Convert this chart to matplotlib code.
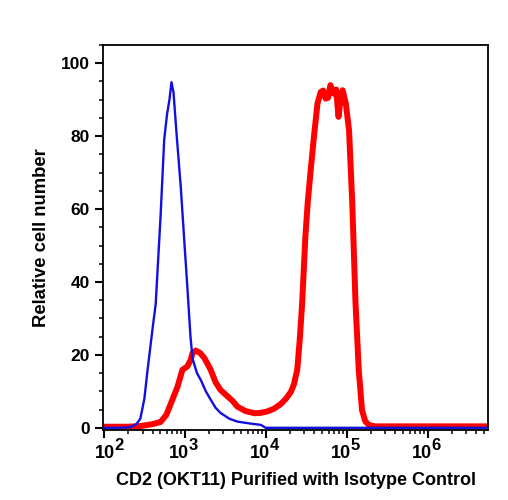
import numpy as np
import matplotlib
matplotlib.use("Agg")
import matplotlib.pyplot as plt
from matplotlib.ticker import LogLocator, MultipleLocator, FixedLocator, NullFormatter
from matplotlib.transforms import blended_transform_factory, offset_copy

plt.rcParams['font.family'] = ['Liberation Sans', 'DejaVu Sans']
plt.rcParams['font.weight'] = 'bold'

# Isotype control (blue): log10 fluorescence, relative cell number
iso_log = [1.99, 2.2, 2.33, 2.4, 2.45, 2.5, 2.54, 2.6, 2.64, 2.7, 2.745, 2.78, 2.81, 2.835, 2.86,
           2.9, 2.95, 3.0, 3.03, 3.07, 3.095, 3.15, 3.2, 3.26, 3.32, 3.38, 3.44, 3.55, 3.65, 3.8,
           3.94, 4.0, 4.5, 5.5, 6.75]
iso_val = [0.0, 0.0, 0.2, 1.0, 2.5, 8.0, 16.0, 27.0, 34.0, 58.0, 79.0, 86.0, 90.0, 94.8, 92.0,
           80.0, 66.0, 49.0, 39.0, 25.0, 19.0, 15.0, 13.0, 10.0, 7.7, 5.5, 4.1, 2.5, 1.7, 1.2,
           0.8, 0.0, 0.0, 0.0, 0.0]

# CD2 (OKT11) stained (red)
cd2_log = [1.99, 2.3, 2.457, 2.6, 2.7, 2.77, 2.83, 2.91, 2.97, 3.03, 3.07, 3.095, 3.136, 3.19,
           3.24, 3.32, 3.38, 3.44, 3.49, 3.53, 3.59, 3.65, 3.75, 3.86, 3.94, 4.02, 4.1, 4.185,
           4.25, 4.31, 4.35, 4.39, 4.42, 4.45, 4.49, 4.52, 4.556, 4.6, 4.64, 4.68, 4.71, 4.74,
           4.77, 4.80, 4.82, 4.84, 4.87, 4.90, 4.93, 4.95, 4.99, 5.03, 5.07, 5.11, 5.15, 5.19,
           5.23, 5.275, 5.35, 6.75]
cd2_val = [0.3, 0.3, 0.5, 1.0, 1.6, 3.5, 6.8, 11.3, 15.9, 16.8, 18.5, 20.5, 21.2, 20.5,
           19.2, 15.9, 12.5, 10.4, 9.4, 8.6, 7.4, 5.8, 4.6, 4.0, 4.1, 4.5, 5.2, 6.5,
           8.0, 9.8, 12.0, 16.0, 24.0, 34.0, 52.4, 62.0, 70.7, 80.7, 89.0, 92.1, 92.5, 90.3,
           90.5, 94.0, 92.5, 91.7, 92.8, 85.3, 91.0, 92.6, 89.0, 81.6, 61.6, 34.2, 15.9, 4.9,
           1.8, 0.8, 0.4, 0.4]

x_ticks_exp = [2, 3, 4, 5, 6]
y_ticks = [0, 20, 40, 60, 80, 100]

fig = plt.figure(figsize=(5.08, 5.00), dpi=100)
ax = fig.add_axes([0.203, 0.14, 0.758, 0.77])

ax.plot(10 ** np.array(iso_log), iso_val, color='#1010e0', lw=1.7, zorder=3)
ax.plot(10 ** np.array(cd2_log), cd2_val, color='#ff0000', lw=4.3, zorder=2,
        solid_joinstyle='round', solid_capstyle='round')

ax.set_xscale('log')
ax.set_xlim(10 ** 1.99, 10 ** 6.75)
ax.set_ylim(-0.6, 105)

ax.xaxis.set_major_locator(FixedLocator([10 ** e for e in x_ticks_exp]))
ax.xaxis.set_major_formatter(NullFormatter())
ax.xaxis.set_minor_locator(LogLocator(base=10, subs=np.arange(2, 10), numticks=20))
ax.xaxis.set_minor_formatter(NullFormatter())

ax.set_yticks(y_ticks)
ax.yaxis.set_minor_locator(MultipleLocator(5))

for s in ax.spines.values():
    s.set_linewidth(1.3)

ax.tick_params(which='major', direction='out', length=6, width=1.5, labelsize=12.5)
ax.tick_params(which='minor', direction='out', length=3, width=1.1)
for lab in ax.get_yticklabels():
    lab.set_fontweight('bold')

# x tick labels: "10" with a large superscript exponent
trans = blended_transform_factory(ax.transData, ax.transAxes)
for i, e in enumerate(x_ticks_exp):
    dx = 11 if i == 0 else 4
    t1 = offset_copy(trans, fig=fig, x=dx * 0.72, y=-20.5, units='points')
    ax.text(10 ** e, 0, '10', transform=t1, ha='right', va='baseline',
            fontsize=13, fontweight='bold', clip_on=False)
    t2 = offset_copy(trans, fig=fig, x=dx * 0.72 - 0.3, y=-14.5, units='points')
    ax.text(10 ** e, 0, str(e), transform=t2, ha='left', va='baseline',
            fontsize=12, fontweight='bold', clip_on=False)

ax.set_xlabel('CD2 (OKT11) Purified with Isotype Control', fontsize=13, fontweight='bold', labelpad=21)
ax.set_ylabel('Relative cell number', fontsize=13.3, fontweight='bold', labelpad=8)

fig.savefig('out.png', dpi=100)
